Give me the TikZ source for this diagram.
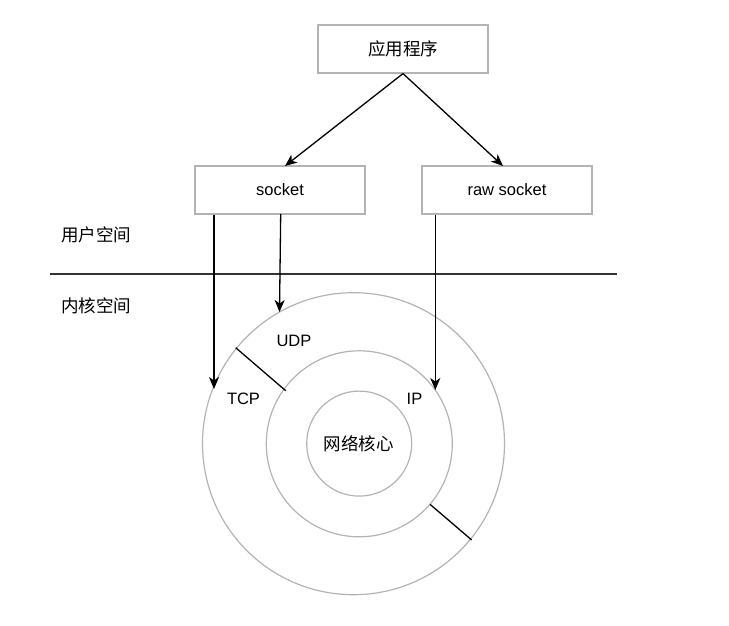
\documentclass[tikz,border=0pt]{standalone}
\usepackage{fontspec}
\setmainfont{Liberation Sans}
\newfontfamily\cjk{Noto Sans CJK SC}
\usetikzlibrary{arrows.meta}
\definecolor{edgegray}{HTML}{B3B3B3}
\definecolor{rulegray}{HTML}{333333}
\begin{document}
\begin{tikzpicture}[x=1pt,y=-1pt,
  box/.style={draw=edgegray,line width=1.2pt,minimum width=170pt,minimum height=48pt,inner sep=0pt,font=\fontsize{16.5}{18}\selectfont},
  ring/.style={draw=edgegray,line width=1.2pt,circle,inner sep=0pt},
  flow/.style={draw=black,line width=1.3pt,-{Stealth[length=12pt,width=10pt,inset=3.5pt]}},
  split/.style={draw=black,line width=1.3pt},
  lbl/.style={inner sep=0pt,font=\fontsize{16.5}{18}\selectfont},
  cjklbl/.style={inner sep=0pt,font=\cjk\fontsize{17.5}{19}\selectfont}]
\useasboundingbox (0,0) rectangle (729,626);

% application and socket boxes
\node[box,font=\cjk\fontsize{17.5}{19}\selectfont] (app) at (403,49) {应用程序};
\node[box] (sock) at (280,190) {socket};
\node[box] (raw) at (507,190) {raw socket};

% kernel rings
\node[ring,minimum size=302pt] (outer) at (353.5,443.7) {};
\node[ring,minimum size=186pt] (mid) at (359.3,443.8) {};
\node[ring,minimum size=105pt] (inner) at (359.2,443.6) {};

% user / kernel boundary
\coordinate (ruleL) at (50,274);
\coordinate (ruleR) at (617,274);
\draw[rulegray,line width=1.3pt] (ruleL) -- (ruleR);
\node[cjklbl,anchor=west] (user) at (61,235) {用户空间};
\node[cjklbl,anchor=west] (kernel) at (61,306) {内核空间};

% layer labels
\node[lbl] (udp) at (294,341) {UDP};
\node[lbl] (tcp) at (243.5,399) {TCP};
\node[lbl] (ip) at (414.5,399) {IP};
\node[cjklbl] (core) at (358.5,444) {网络核心};

% borders between TCP and UDP sectors
\coordinate (s1a) at (235.7,347.7);
\coordinate (s1b) at (285.7,390.7);
\coordinate (s2a) at (430,504.3);
\coordinate (s2b) at (471.7,540);
\draw[split] (s1a) -- (s1b);
\draw[split] (s2a) -- (s2b);

% application to sockets
\coordinate (sockTop) at (285,166);
\coordinate (rawTop) at (503,166);
\draw[flow] (app.south) -- (sockTop);
\draw[flow] (app.south) -- (rawTop);

% sockets down into the protocol layers
\coordinate (tcpIn) at (214,389);
\coordinate (udpIn) at (279.5,312);
\coordinate (ipIn) at (435.3,390);
\draw[flow] (sock.south -| tcpIn) -- (tcpIn);
\draw[flow] (280.7,214) -- (udpIn);
\draw[flow] (raw.south -| ipIn) -- (ipIn);
\end{tikzpicture}
\end{document}
